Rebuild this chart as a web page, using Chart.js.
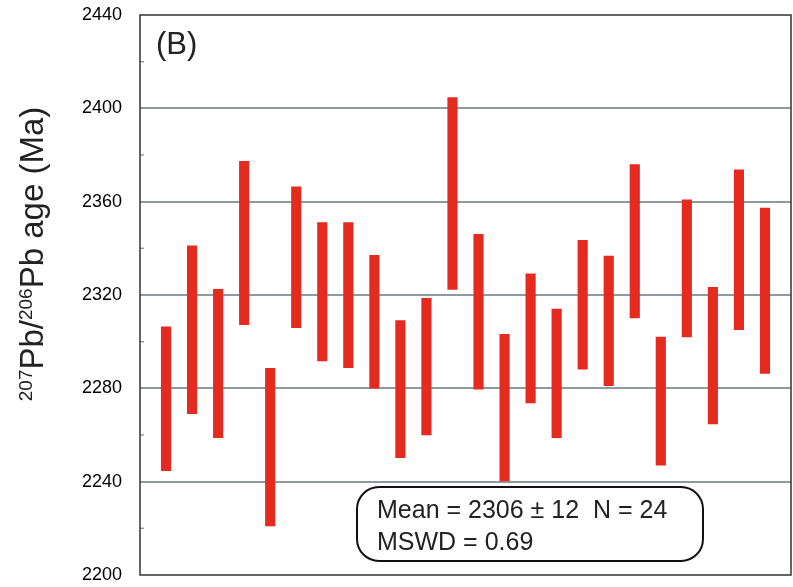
<!DOCTYPE html>
<html>
<head>
<meta charset="utf-8">
<script src="https://cdn.jsdelivr.net/npm/chart.js@4.4.1/dist/chart.umd.min.js"></script>
<style>
  body { margin: 0; background: #fff; }
</style>
</head>
<body>
<canvas id="grafico" width="793" height="587"></canvas>
<script>
const spots = ['1', '2', '3', '4', '5', '6', '7', '8', '9', '10', '11', '12',
  '13', '14', '15', '16', '17', '18', '19', '20', '21', '22', '23', '24'];
const ageLow = [2244.7, 2269.1, 2258.9, 2307.3, 2221.0, 2306.0, 2291.7, 2288.9, 2280.1, 2250.3, 2260.0, 2322.4,
  2279.6, 2240.3, 2273.7, 2258.9, 2288.2, 2281.1, 2310.2, 2247.1, 2302.0, 2264.7, 2305.1, 2286.4];
const ageHigh = [2306.4, 2341.1, 2322.4, 2377.3, 2288.6, 2366.4, 2351.0, 2351.0, 2337.0, 2309.0, 2318.6, 2404.6,
  2346.0, 2303.1, 2329.1, 2314.0, 2343.4, 2336.7, 2375.9, 2302.0, 2360.8, 2323.3, 2373.6, 2357.3];
const yTicks = [2200, 2240, 2280, 2320, 2360, 2400, 2440];
const yMinorTicks = [2220, 2260, 2300, 2340, 2380, 2420];
const panelLabel = '(B)';
const statsLines = ['Mean = 2306 ± 12  N = 24', 'MSWD = 0.69'];
const yTitle = [['207', true], ['Pb/', false], ['206', true], ['Pb age (Ma)', false]];

const fonte = '"Liberation Sans", Arial, Helvetica, sans-serif';

const extras = {
  id: 'extras',
  afterDraw(chart) {
    const c = chart.ctx;
    const area = chart.chartArea;
    const y = chart.scales.y;
    c.save();

    // minor ticks on the left axis
    c.strokeStyle = '#8d9ba1';
    c.lineWidth = 1.5;
    yMinorTicks.forEach((v) => {
      const py = y.getPixelForValue(v);
      c.beginPath();
      c.moveTo(area.left, py);
      c.lineTo(area.left + 4, py);
      c.stroke();
    });

    // frame
    c.strokeStyle = '#333';
    c.lineWidth = 1.5;
    c.strokeRect(area.left, area.top, area.right - area.left, area.bottom - area.top);

    // panel label
    c.fillStyle = '#222';
    c.font = `31px ${fonte}`;
    c.textAlign = 'left';
    c.textBaseline = 'alphabetic';
    c.fillText(panelLabel, area.left + 16, area.top + 39);

    // stats box
    c.beginPath();
    c.roundRect(357, 487, 346, 74, 22);
    c.fillStyle = '#fff';
    c.fill();
    c.strokeStyle = '#111';
    c.lineWidth = 2;
    c.stroke();
    c.fillStyle = '#222';
    c.font = `25px ${fonte}`;
    c.fillText(statsLines[0], 377, 518);
    c.fillText(statsLines[1], 377, 550);

    // y title with superscripts
    let total = 0;
    yTitle.forEach(([t, sup]) => {
      c.font = sup ? `19px ${fonte}` : `33px ${fonte}`;
      total += c.measureText(t).width;
    });
    c.translate(43, 254 + total / 2);
    c.rotate(-Math.PI / 2);
    let pos = 0;
    yTitle.forEach(([t, sup]) => {
      c.font = sup ? `19px ${fonte}` : `33px ${fonte}`;
      c.fillText(t, pos, sup ? -11 : 0);
      pos += c.measureText(t).width;
    });
    c.restore();
  }
};

new Chart(document.getElementById('grafico'), {
  type: 'bar',
  data: {
    datasets: [{
      data: spots.map((s, i) => ({ x: i + 1, y: [ageLow[i], ageHigh[i]] })),
      backgroundColor: '#e52a20',
      borderWidth: 0,
      barThickness: 9.5,
    }]
  },
  options: {
    responsive: false,
    animation: false,
    layout: { padding: { left: 0, right: 2, top: 15, bottom: 12 } },
    plugins: {
      legend: { display: false },
      tooltip: { enabled: false },
    },
    scales: {
      x: { type: 'linear', min: 0, max: 25, offset: false, display: false },
      y: {
        min: 2200,
        max: 2440,
        afterFit(s) {
          s.width = 140;
          s.paddingTop = 0;
          s.paddingBottom = 0;
        },
        afterBuildTicks(s) { s.ticks = yTicks.map((v) => ({ value: v })); },
        ticks: {
          color: '#000',
          padding: 18,
          font: { family: fonte, size: 18 },
          callback: (v) => String(v),
        },
        grid: {
          drawTicks: false,
          lineWidth: 2,
          color: (ctx) => (ctx.tick && ctx.tick.value > 2200 && ctx.tick.value < 2440) ? '#8d9ba1' : 'rgba(0,0,0,0)',
        },
        border: { display: false },
      },
    },
  },
  plugins: [extras],
});
</script>
</body>
</html>
